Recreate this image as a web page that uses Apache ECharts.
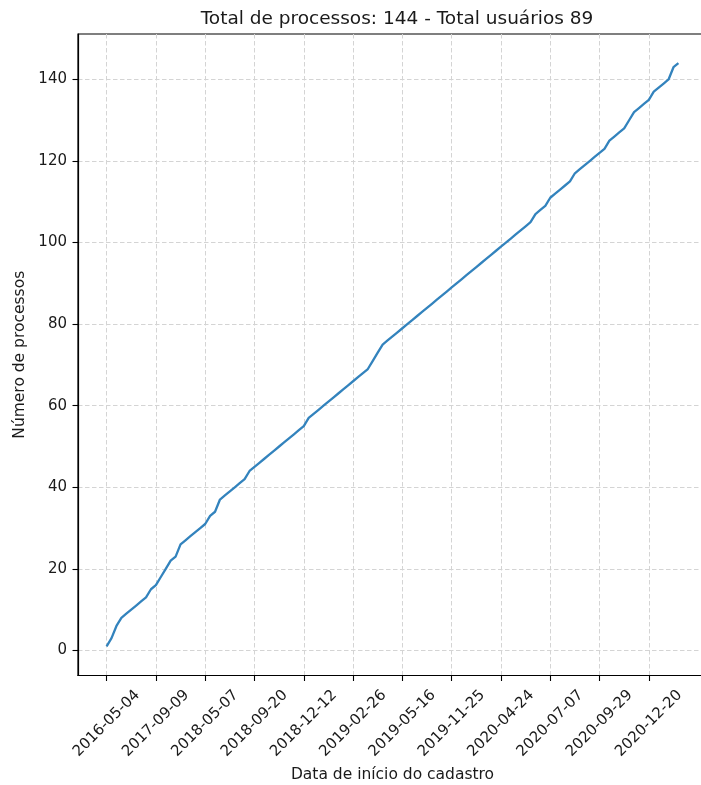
<!DOCTYPE html>
<html>
<head>
<meta charset="utf-8">
<script src="https://cdn.jsdelivr.net/npm/echarts@6/dist/echarts.min.js"></script>
<style>
html,body{margin:0;padding:0;background:#ffffff;}
#chart{width:701px;height:785px;}
</style>
</head>
<body>
<div id="chart"></div>
<script>
// ---- data ----
const chartTitle = 'Total de processos: 144 - Total usuários 89';
const xAxisTitle = 'Data de início do cadastro';
const yAxisTitle = 'Número de processos';

// tick labels shown every 10 categories
const tickIndices = [0, 10, 20, 30, 40, 50, 60, 70, 80, 90, 100, 110];
const tickLabels = ['2016-05-04', '2017-09-09', '2018-05-07', '2018-09-20', '2018-12-12', '2019-02-26',
                    '2019-05-16', '2019-11-25', '2020-04-24', '2020-07-07', '2020-09-29', '2020-12-20'];

// cumulative number of processes per registration date (one value per date category)
const values = [
  1, 3, 6, 8, 9, 10, 11, 12, 13, 15,
  16, 18, 20, 22, 23, 26, 27, 28, 29, 30,
  31, 33, 34, 37, 38, 39, 40, 41, 42, 44,
  45, 46, 47, 48, 49, 50, 51, 52, 53, 54,
  55, 57, 58, 59, 60, 61, 62, 63, 64, 65,
  66, 67, 68, 69, 71, 73, 75, 76, 77, 78,
  79, 80, 81, 82, 83, 84, 85, 86, 87, 88,
  89, 90, 91, 92, 93, 94, 95, 96, 97, 98,
  99, 100, 101, 102, 103, 104, 105, 107, 108, 109,
  111, 112, 113, 114, 115, 117, 118, 119, 120, 121,
  122, 123, 125, 126, 127, 128, 130, 132, 133, 134,
  135, 137, 138, 139, 140, 143, 144
];
const yTicks = [0, 20, 40, 60, 80, 100, 120, 140];

// ---- build chart ----
const seriesData = values.map((v, i) => [i, v]);
const n = values.length;
const xPad = (n - 1) * 0.05;
const yMinV = Math.min(...values), yMaxV = Math.max(...values);
const yPad = (yMaxV - yMinV) * 0.05;

const font = 'DejaVu Sans';
const textColor = '#1a1a1a';
const gridLine = { show: true, lineStyle: { color: '#d4d4d4', width: 1, type: [4.5, 2.5] } };

const chart = echarts.init(document.getElementById('chart'), null, { renderer: 'canvas' });
chart.setOption({
  animation: false,
  backgroundColor: '#ffffff',
  title: {
    text: chartTitle,
    left: 392,
    top: 5,
    textAlign: 'center',
    textStyle: { fontFamily: font, fontSize: 18.5, fontWeight: 'normal', color: textColor }
  },
  grid: {
    left: 78, width: 629, top: 34, height: 641.5,
    containLabel: false,
    outerBoundsMode: 'none',
    show: true, borderColor: '#000000', borderWidth: 1.2, backgroundColor: 'transparent'
  },
  xAxis: {
    type: 'value',
    min: -xPad,
    max: (n - 1) + xPad,
    name: xAxisTitle,
    nameLocation: 'middle',
    nameGap: 89,
    nameTextStyle: { fontFamily: font, fontSize: 15.5, color: textColor },
    axisLine: { show: true, onZero: false, lineStyle: { color: '#000000', width: 1.2 } },
    axisTick: { show: true, length: 5.5, lineStyle: { color: '#000000', width: 1.1 }, customValues: tickIndices },
    axisLabel: {
      customValues: tickIndices,
      rotate: 45,
      align: 'center',
      verticalAlign: 'middle',
      margin: 48,
      fontFamily: font,
      fontSize: 15,
      color: textColor,
      formatter: (val) => {
        const k = tickIndices.indexOf(Math.round(val));
        return k >= 0 ? tickLabels[k] : '';
      }
    },
    splitLine: gridLine
  },
  yAxis: {
    type: 'value',
    min: yMinV - yPad,
    max: yMaxV + yPad,
    name: yAxisTitle,
    nameLocation: 'middle',
    nameGap: 41,
    nameTextStyle: { fontFamily: font, fontSize: 15.5, color: textColor },
    axisLine: { show: true, onZero: false, lineStyle: { color: '#000000', width: 1.2 } },
    axisTick: { show: true, length: 5.5, lineStyle: { color: '#000000', width: 1.1 }, customValues: yTicks },
    axisLabel: {
      customValues: yTicks,
      margin: 11,
      fontFamily: font,
      fontSize: 15,
      color: textColor
    },
    splitLine: gridLine
  },
  series: [{
    type: 'line',
    data: seriesData,
    showSymbol: false,
    smooth: false,
    lineStyle: { color: '#3383bd', width: 2.3 },
    clip: true
  }]
});
</script>
</body>
</html>
